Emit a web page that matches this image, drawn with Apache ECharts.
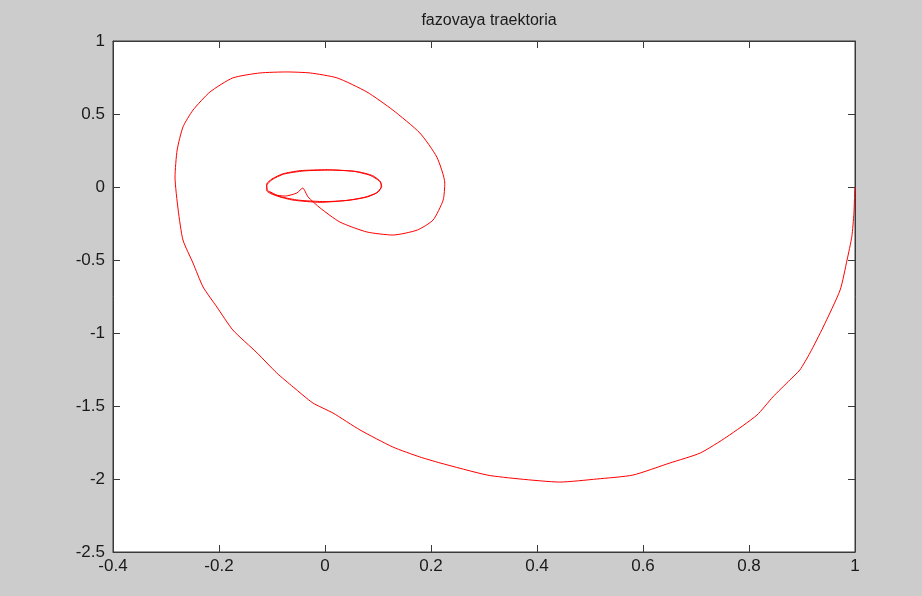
<!DOCTYPE html>
<html>
<head>
<meta charset="utf-8">
<script src="https://cdn.jsdelivr.net/npm/echarts@6/dist/echarts.min.js"></script>
<style>
  html, body { margin: 0; padding: 0; background: #cccccc; }
  #chart { width: 922px; height: 596px; }
</style>
</head>
<body>
<div id="chart"></div>
<script>
// phase trajectory (x, y pairs in order)
var trajX = [1.0, 0.999, 0.998, 0.994, 0.985, 0.972, 0.94, 0.915, 0.896, 0.877, 0.845, 0.815, 0.758, 0.708,
  0.651, 0.581, 0.513, 0.443, 0.368, 0.306, 0.217, 0.179, 0.128, 0.066, 0.015, -0.023, -0.06, -0.091,
  -0.128, -0.174, -0.204, -0.23, -0.249, -0.268, -0.277, -0.283, -0.279, -0.268, -0.249, -0.217, -0.174,
  -0.123, -0.072, -0.028, 0.023, 0.079, 0.128, 0.179, 0.211, 0.226, 0.223, 0.204, 0.174, 0.128, 0.079,
  0.028, -0.009, -0.032, -0.042,
  -0.053, -0.075, -0.098, -0.11, -0.11, -0.1, -0.08, -0.047, 0.004, 0.053, 0.085, 0.103, 0.107, 0.1,
  0.08, 0.047, -0.009, -0.06, -0.092, -0.108, -0.11, -0.1, -0.078, -0.04, 0.01, 0.06, 0.09, 0.105,
  0.106, 0.097, 0.075, 0.04, 0.0, -0.05, -0.085, -0.105];
var trajY = [0.0, -0.08, -0.18, -0.34, -0.5, -0.705, -0.959, -1.137, -1.253, -1.322, -1.438, -1.562, -1.712,
  -1.822, -1.89, -1.973, -2.0, -2.021, -2.0, -1.973, -1.89, -1.849, -1.781, -1.664, -1.548, -1.479, -1.37,
  -1.274, -1.137, -0.979, -0.822, -0.685, -0.521, -0.363, -0.158, 0.068, 0.253, 0.411, 0.527, 0.651, 0.747,
  0.781, 0.788, 0.781, 0.747, 0.651, 0.527, 0.37, 0.205, 0.027, -0.089, -0.226, -0.295, -0.329, -0.308,
  -0.24, -0.144, -0.068, -0.007,
  -0.041, -0.062, -0.052, -0.025, 0.02, 0.055, 0.09, 0.112, 0.118, 0.108, 0.08, 0.04, 0.005, -0.035,
  -0.068, -0.09, -0.105, -0.09, -0.06, -0.025, 0.01, 0.05, 0.088, 0.11, 0.116, 0.106, 0.078, 0.035,
  0.0, -0.04, -0.07, -0.092, -0.1, -0.09, -0.065, -0.03];

var xMin = -0.4, xMax = 1, xStep = 0.2;
var yMin = -2.5, yMax = 1, yStep = 0.5;
var titleText = 'fazovaya traektoria';

var points = trajX.map(function (x, i) { return [x, trajY[i]]; });

var chart = echarts.init(document.getElementById('chart'));

var tickFmt = function (v) { return String(Math.round(v * 10) / 10); };
var labelStyle = { color: '#1a1a1a', fontFamily: 'Liberation Sans, Arial, sans-serif', fontSize: 17 };
var lineStyle = { color: '#3a3a3a', width: 1 };

function axis(kind, pos, min, max, step, labels) {
  return {
    type: 'value', min: min, max: max, interval: step, position: pos,
    axisLine: { show: true, onZero: false, lineStyle: lineStyle },
    axisTick: { show: true, inside: true, length: 7, lineStyle: lineStyle },
    axisLabel: labels ? Object.assign({ formatter: tickFmt, margin: kind === 'x' ? 6 : 8 }, labelStyle) : { show: false },
    splitLine: { show: false }
  };
}

chart.setOption({
  backgroundColor: '#cccccc',
  animation: false,
  title: {
    text: titleText,
    left: 484,
    textAlign: 'center',
    top: 8,
    textStyle: { color: '#1a1a1a', fontWeight: 'normal', fontSize: 16, fontFamily: 'Liberation Sans, Arial, sans-serif' }
  },
  grid: {
    left: 113, right: 67, top: 41, bottom: 44,
    show: true, backgroundColor: '#ffffff', borderColor: '#3a3a3a', borderWidth: 1
  },
  xAxis: [
    axis('x', 'bottom', xMin, xMax, xStep, true),
    axis('x', 'top', xMin, xMax, xStep, false)
  ],
  yAxis: [
    axis('y', 'left', yMin, yMax, yStep, true),
    axis('y', 'right', yMin, yMax, yStep, false)
  ],
  series: [{
    type: 'line',
    data: points,
    showSymbol: false,
    smooth: 0.2,
    lineStyle: { color: '#ff0000', width: 1 },
    z: 3
  }]
});
</script>
</body>
</html>
